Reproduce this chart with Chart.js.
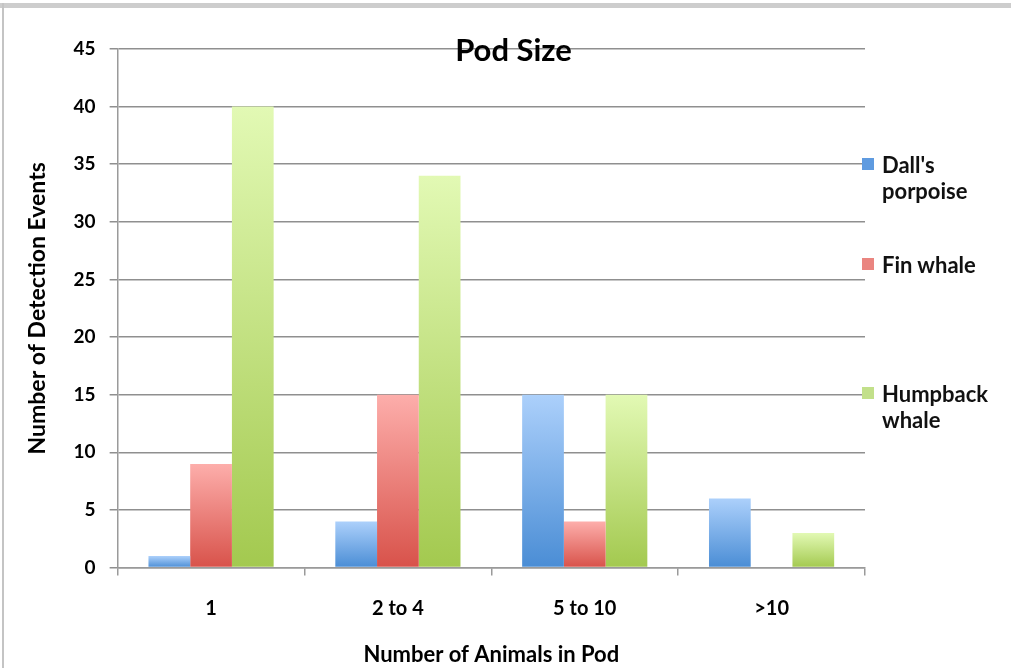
<!DOCTYPE html>
<html>
<head>
<meta charset="utf-8">
<script src="https://cdn.jsdelivr.net/npm/chart.js@4.4.1/dist/chart.umd.min.js"></script>
<style>
  html, body { margin: 0; padding: 0; background: #fff; }
  #wrap { position: relative; width: 1011px; height: 668px; overflow: hidden; font-family: Lato, "Open Sans", sans-serif; }
  #chart { position: absolute; left: 0; top: 0; }
  .frame-top { position: absolute; left: 0; top: 3px; width: 1011px; height: 5px; background: #cdcdcd; }
  .frame-left { position: absolute; left: 2px; top: 3px; width: 2px; height: 665px; background: #c4c4c4; }
  #title { position: absolute; top: 31px; left: 0; width: 1027px; text-align: center; font-weight: bold; font-size: 31px; line-height: 36px; color: #000; }
  .leg { position: absolute; left: 862px; font-weight: bold; font-size: 22px; line-height: 26px; color: #111; }
  .leg i { position: absolute; left: 0; top: 6px; width: 12px; height: 12px; }
  .leg span { display: block; padding-left: 20px; }
</style>
</head>
<body>
<div id="wrap">
  <canvas id="chart" width="1011" height="668"></canvas>
  <div class="frame-top"></div>
  <div class="frame-left"></div>
  <div id="title">Pod Size</div>
  <div id="legend"></div>
</div>
<script>
// --- data ---
const categories = ['1', '2 to 4', '5 to 10', '>10'];
const seriesNames = ["Dall's porpoise", 'Fin whale', 'Humpback whale'];
const dallValues = [1, 4, 15, 6];
const finValues = [9, 15, 4, 0];
const humpbackValues = [40, 34, 15, 3];
const yTicks = [0, 5, 10, 15, 20, 25, 30, 35, 40, 45];

// top / bottom colour of each bar gradient
const shades = [
  ['#acd0fb', '#4a8dd5'],
  ['#fdaeab', '#d8524a'],
  ['#e2f9b4', '#a3c94f']
];
const legendSwatch = ['#5f9be0', '#ea8580', '#c2e08a'];
const legendLines = [["Dall's", 'porpoise'], ['Fin whale'], ['Humpback', 'whale']];
const legendTops = [152, 252, 381];

function barGradient(i) {
  return function(context) {
    const chart = context.chart;
    const y = chart.scales.y;
    if (!y || context.parsed == null) return shades[i][1];
    const top = y.getPixelForValue(context.parsed.y);
    const bottom = y.getPixelForValue(0);
    if (!isFinite(top) || !isFinite(bottom) || top === bottom) return shades[i][1];
    const g = chart.ctx.createLinearGradient(0, top, 0, bottom);
    g.addColorStop(0, shades[i][0]);
    g.addColorStop(1, shades[i][1]);
    return g;
  };
}

const allValues = [dallValues, finValues, humpbackValues];
const boldFont = size => ({ family: 'Lato', weight: 'bold', size: size });

new Chart(document.getElementById('chart'), {
  type: 'bar',
  data: {
    labels: categories,
    datasets: seriesNames.map((name, i) => ({
      label: name,
      data: allValues[i],
      backgroundColor: barGradient(i),
      borderWidth: 0,
      categoryPercentage: 0.67,
      barPercentage: 1.0
    }))
  },
  options: {
    responsive: false,
    animation: false,
    layout: { padding: { left: 24, right: 146, top: 49, bottom: 0 } },
    plugins: { legend: { display: false }, title: { display: false }, tooltip: { enabled: false } },
    scales: {
      x: {
        grid: { display: true, drawOnChartArea: false, drawTicks: true, tickLength: 8, color: '#9a9a9a', lineWidth: 1.5, offset: true },
        border: { color: '#9a9a9a', width: 1.5 },
        ticks: { color: '#000', font: boldFont(20), padding: 21 },
        title: { display: true, text: 'Number of Animals in Pod', color: '#000', font: boldFont(22), padding: { top: 0, bottom: 0 } }
      },
      y: {
        min: 0, max: 45,
        afterBuildTicks: axis => { axis.ticks = yTicks.map(v => ({ value: v })); },
        grid: { color: '#8f8f8f', lineWidth: 1.5, tickLength: 8 },
        border: { color: '#9a9a9a', width: 1.5 },
        ticks: { color: '#000', font: boldFont(19), padding: 14 },
        title: { display: true, text: 'Number of Detection Events', color: '#000', font: boldFont(23), padding: { top: 0, bottom: 8 } }
      }
    }
  }
});

// --- legend ---
const legend = document.getElementById('legend');
seriesNames.forEach((name, i) => {
  const d = document.createElement('div');
  d.className = 'leg';
  d.style.top = legendTops[i] + 'px';
  d.innerHTML = `<i style="background:${legendSwatch[i]}"></i>` + legendLines[i].map(t => `<span>${t}</span>`).join('');
  legend.appendChild(d);
});
</script>
</body>
</html>
